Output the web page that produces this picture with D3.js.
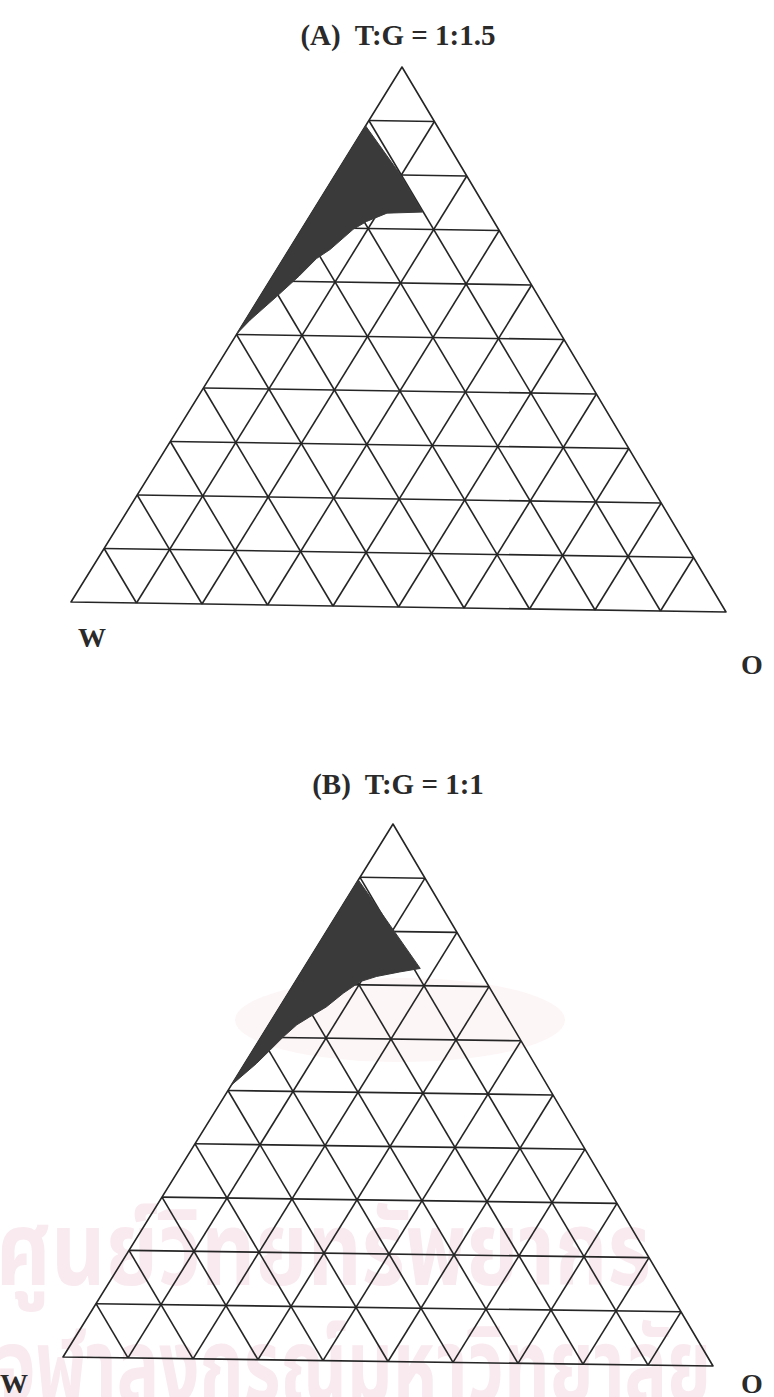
<!DOCTYPE html>
<html>
<head>
<meta charset="utf-8">
<script src="https://cdn.jsdelivr.net/npm/d3@7"></script>
<style>
  body { margin: 0; background: #fff; }
  svg { display: block; }
  .title, .corner { font-family: "Liberation Serif", "Times New Roman", serif; font-weight: bold; fill: #2a2a2a; white-space: pre; }
  .title { font-size: 29px; }
  .corner { font-size: 28px; }
  .grid { fill: none; stroke: #252525; stroke-width: 1.6; stroke-linejoin: round; }
  .mark { font-family: "Noto Sans Thai", "Noto Sans", "DejaVu Sans", sans-serif; font-weight: bold; fill: #f9eaf0; }
</style>
</head>
<body>
<svg width="774" height="1397"></svg>
<script>
var W = 774, H = 1397;

// panel titles and corner names
var titles = ["(A)  T:G = 1:1.5", "(B)  T:G = 1:1"];
var cornerNames = ["W", "O"];

// grid levels of the ternary diagram (fractions)
var gridLevels = [0.1, 0.2, 0.3, 0.4, 0.5, 0.6, 0.7, 0.8, 0.9];

// shaded region, points as [top fraction, O fraction]
var regionA = [
  [0.890, 0.000], [0.800, 0.099], [0.732, 0.167], [0.729, 0.114],
  [0.713, 0.091], [0.698, 0.078], [0.660, 0.062], [0.643, 0.050],
  [0.610, 0.040], [0.571, 0.025], [0.527, 0.007], [0.502, 0.000]
];
var regionB = [
  [0.895, 0.000], [0.732, 0.178], [0.725, 0.150], [0.716, 0.119],
  [0.706, 0.099], [0.684, 0.084], [0.658, 0.071], [0.639, 0.055],
  [0.624, 0.043], [0.602, 0.034], [0.576, 0.026], [0.551, 0.018],
  [0.510, 0.000]
];

// watermark text
var markLines = ["ศูนย์วิทยทรัพยากร", "จุฬาลงกรณ์มหาวิทยาลัย"];

var svg = d3.select("svg");

// faint watermark behind everything
svg.append("ellipse")
  .attr("cx", 400).attr("cy", 1020).attr("rx", 165).attr("ry", 42)
  .attr("fill", "#fdf6f7");
svg.selectAll(".mark")
  .data(markLines)
  .enter()
  .append("text")
  .attr("class", "mark")
  .attr("x", -4)
  .attr("y", function(d, i){ return i === 0 ? 1285 : 1402; })
  .attr("font-size", 104)
  .attr("textLength", function(d, i){ return i === 0 ? 655 : 715; })
  .attr("lengthAdjust", "spacingAndGlyphs")
  .text(function(d){ return d; });

var panels = [
  { title: titles[0], titleY: 45, top: [402, 67], left: [71, 602], right: [726, 612],
    wPos: [92, 647], oPos: [752, 674], region: regionA },
  { title: titles[1], titleY: 794, top: [393, 824], left: [63, 1357], right: [713, 1366],
    wPos: [14, 1393], oPos: [752, 1393], region: regionB }
];

panels.forEach(function(p){
  var g = svg.append("g");

  // along the W-O base and up towards the top corner
  var base = d3.scaleLinear().domain([0, 1]).range([p.left, p.right]);
  var rise = d3.scaleLinear().domain([0, 1])
    .range([[0, 0], [p.top[0] - p.left[0], p.top[1] - p.left[1]]]);

  function pt(s, o){
    var b = base(o), r = rise(s);
    return [b[0] + r[0], b[1] + r[1]];
  }

  var line = d3.line();

  // grid lines: constant top, constant O, constant W
  var segs = [];
  gridLevels.forEach(function(k){
    segs.push([pt(k, 0), pt(k, 1 - k)]);
    segs.push([pt(0, k), pt(1 - k, k)]);
    segs.push([pt(0, 1 - k), pt(1 - k, 0)]);
  });
  g.selectAll(".gl")
    .data(segs)
    .enter()
    .append("path")
    .attr("class", "grid")
    .attr("d", function(d){ return line(d); });

  // outline
  g.append("path")
    .attr("class", "grid")
    .attr("d", line([pt(1, 0), pt(0, 0), pt(0, 1)]) + "Z");

  // shaded region sits on top of the grid
  g.append("path")
    .attr("d", line(p.region.map(function(d){ return pt(d[0], d[1]); })) + "Z")
    .attr("fill", "#3a3a3a")
    .attr("stroke", "#3a3a3a")
    .attr("stroke-width", 1);

  g.append("text")
    .attr("class", "title")
    .attr("x", 398)
    .attr("y", p.titleY)
    .attr("text-anchor", "middle")
    .text(p.title);

  g.append("text").attr("class", "corner")
    .attr("x", p.wPos[0]).attr("y", p.wPos[1])
    .attr("text-anchor", "middle")
    .text(cornerNames[0]);
  g.append("text").attr("class", "corner")
    .attr("x", p.oPos[0]).attr("y", p.oPos[1])
    .attr("text-anchor", "middle")
    .text(cornerNames[1]);
});
</script>
</body>
</html>
